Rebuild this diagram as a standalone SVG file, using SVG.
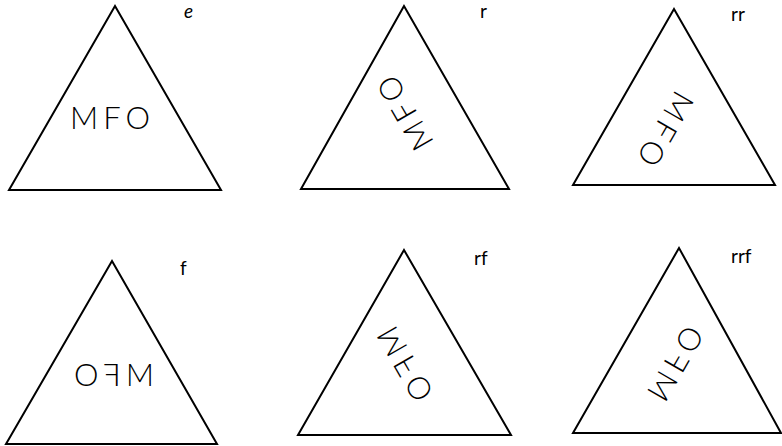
<svg xmlns="http://www.w3.org/2000/svg" width="782" height="446" viewBox="0 0 782 446">
<style>
.tri{fill:none;stroke:#000;stroke-width:2;stroke-linejoin:miter}
.word{font-family:"Lato","Liberation Sans",sans-serif;font-weight:300;font-size:31px;fill:#000;text-anchor:middle}
.lbl{font-family:"Lato","Liberation Sans",sans-serif;font-weight:400;font-size:19px;fill:#000}
</style>
<rect width="782" height="446" fill="#fff"/>
<g id="node-e">
<polygon class="tri" points="115,6 9,190 221,190"/>
<g transform="translate(110,118)"><text class="word" x="0" y="11" textLength="80" lengthAdjust="spacing">MFO</text></g>
<text class="lbl" x="184" y="18" font-style="italic">e</text>
</g>
<g id="node-r">
<polygon class="tri" points="404,6 301,189 509,189"/>
<g transform="translate(405,113) rotate(-120)"><text class="word" x="0" y="11" textLength="80" lengthAdjust="spacing">MFO</text></g>
<text class="lbl" x="480" y="18">r</text>
</g>
<g id="node-rr">
<polygon class="tri" points="674,9 573,185 775,185"/>
<g transform="translate(665.5,129) rotate(120)"><text class="word" x="0" y="11" textLength="80" lengthAdjust="spacing">MFO</text></g>
<text class="lbl" x="731" y="21">rr</text>
</g>
<g id="node-f">
<polygon class="tri" points="112,261 6,444 217,444"/>
<g transform="translate(114,374.5) scale(-1,1)"><text class="word" x="0" y="11" textLength="80" lengthAdjust="spacing">MFO</text></g>
<text class="lbl" x="180" y="275">f</text>
</g>
<g id="node-rf">
<polygon class="tri" points="404,250 298,435 511,435"/>
<g transform="translate(405,364) rotate(60) scale(1,-1)"><text class="word" x="0" y="11" textLength="80" lengthAdjust="spacing">MFO</text></g>
<text class="lbl" x="474" y="265">rf</text>
</g>
<g id="node-rrf">
<polygon class="tri" points="679,248 573,433 781,433"/>
<g transform="translate(675.5,363.5) rotate(-60) scale(1,-1)"><text class="word" x="0" y="11" textLength="80" lengthAdjust="spacing">MFO</text></g>
<text class="lbl" x="731" y="263">rrf</text>
</g>
<g id="connectors"></g>
</svg>
